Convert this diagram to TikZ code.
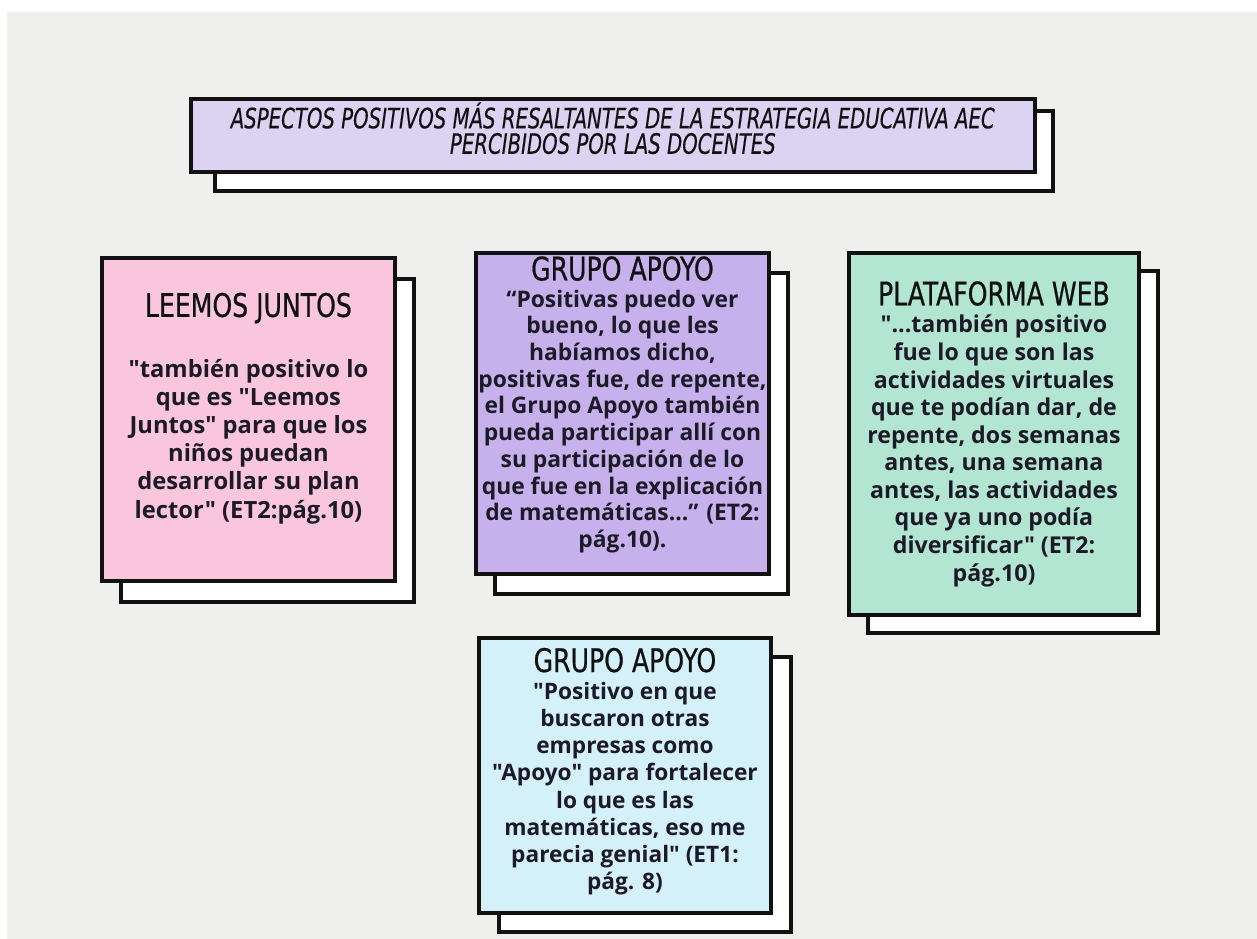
\documentclass[tikz,border=0pt]{standalone}
\usepackage{fontspec}
\setmainfont{Open Sans}[Ligatures=TeXOff]
\newfontfamily\headfont[FakeStretch=0.86,FakeBold=0.6]{DejaVu Sans Condensed}
\newfontfamily\titlefont[FakeStretch=0.78,FakeBold=0.3]{DejaVu Sans Condensed}
\usetikzlibrary{positioning}
\definecolor{cbg}{HTML}{EFEFEE}
\definecolor{cink}{HTML}{111111}
\definecolor{ctext}{HTML}{1C1A26}
\definecolor{ctitle}{HTML}{DCD3F2}
\definecolor{cpink}{HTML}{F9C6DE}
\definecolor{cpurple}{HTML}{C7B1EC}
\definecolor{cgreen}{HTML}{B3E5D3}
\definecolor{cblue}{HTML}{D4F1FA}
\newcommand{\cardhead}[1]{{\headfont\mdseries\color{cink}\fontsize{18.5}{20}\selectfont #1}}

\begin{document}
\begin{tikzpicture}[x=0.02cm, y=-0.02cm,
  font=\bfseries\fontsize{13.5}{16}\selectfont,
  card/.style={draw=cink, line width=2.3pt, outer sep=0pt, inner sep=0pt,
               align=center, anchor=north west, text=ctext},
  shadow/.style={card, fill=white},
]
\useasboundingbox (0,0) rectangle (1257,939);
\fill[cbg] (7,12) rectangle (1257,939);

% ------------------------------------------------------------ title
\node[shadow, minimum width=16.76cm, minimum height=1.60cm] (title-bk) at (215,111) {};
\node[card, fill=ctitle, minimum width=16.88cm, minimum height=1.46cm, text=cink,
      font=\titlefont\mdseries\itshape\fontsize{16}{14.5}\selectfont] (title) at (191,99) {%
  ASPECTOS POSITIVOS MÁS RESALTANTES DE LA ESTRATEGIA EDUCATIVA AEC\\
  PERCIBIDOS POR LAS DOCENTES\\[-6pt] \mbox{}};

% ------------------------------------------------------------ leemos juntos
\node[shadow, minimum width=5.86cm, minimum height=6.46cm] (leemos-bk) at (121,279) {};
\node[card, fill=cpink, minimum width=5.86cm, minimum height=6.46cm,
      font=\bfseries\fontsize{13.5}{16}\selectfont] (leemos) at (102,258) {%
  \cardhead{LEEMOS JUNTOS}\\[18.5pt]
  "también positivo lo\\ que es "Leemos\\ Juntos" para que los\\ niños puedan\\
  desarrollar su plan\\ lector" (ET2:pág.10)\\ \mbox{}};

% ------------------------------------------------------------ grupo apoyo
\node[shadow, minimum width=5.86cm, minimum height=6.42cm] (apoyo-bk) at (495,273) {};
\node[card, fill=cpurple, minimum width=5.86cm, minimum height=6.42cm,
      font=\bfseries\fontsize{13}{15.2}\selectfont] (apoyo) at (476,253) {%
  \cardhead{GRUPO APOYO}\\
  “Positivas puedo ver\\ bueno, lo que les\\ habíamos dicho,\\ positivas fue, de repente,\\
  el Grupo Apoyo también\\ pueda participar allí con\\ su participación de lo\\
  que fue en la explicación\\ de matemáticas...” (ET2:\\ pág.10).\\[-2pt] \mbox{}};

% ------------------------------------------------------------ plataforma web
\node[shadow, minimum width=5.80cm, minimum height=7.24cm] (web-bk) at (868,271) {};
\node[card, fill=cgreen, minimum width=5.80cm, minimum height=7.24cm,
      font=\bfseries\fontsize{13.2}{15.7}\selectfont] (web) at (849,253) {%
  \cardhead{PLATAFORMA WEB}\\
  "...también positivo\\ fue lo que son las\\ actividades virtuales\\ que te podían dar, de\\
  repente, dos semanas\\ antes, una semana\\ antes, las actividades\\ que ya uno podía\\
  diversificar" (ET2:\\ pág.10)};

% ------------------------------------------------------------ grupo apoyo (2)
\node[shadow, minimum width=5.84cm, minimum height=5.50cm] (empresas-bk) at (499,657) {};
\node[card, fill=cblue, minimum width=5.84cm, minimum height=5.50cm,
      font=\bfseries\fontsize{12.9}{15.5}\selectfont] (empresas) at (479,638) {%
  \cardhead{GRUPO APOYO}\\
  "Positivo en que\\ buscaron otras\\ empresas como\\ "Apoyo" para fortalecer\\
  lo que es las\\ matemáticas, eso me\\ parecia genial" (ET1:\\ pág. 8)\\[-8pt] \mbox{}};

\end{tikzpicture}
\end{document}
